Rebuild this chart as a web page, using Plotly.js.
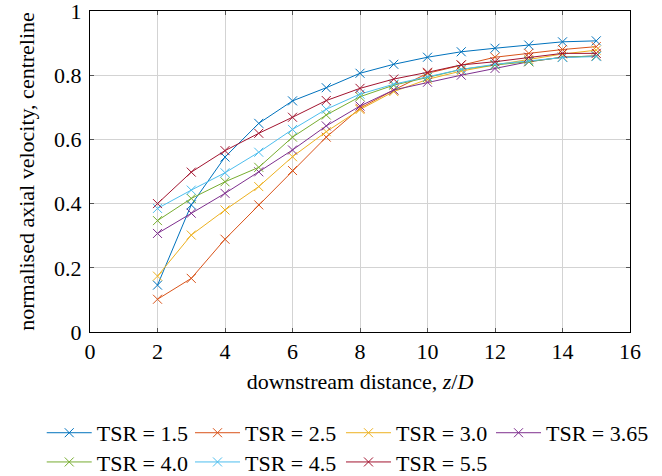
<!DOCTYPE html>
<html>
<head>
<meta charset="utf-8">
<script src="https://cdn.plot.ly/plotly-3.0.1.min.js"></script>
<style>html,body{margin:0;padding:0;background:#fff;}#chart{width:662px;height:476px;}</style>
</head>
<body>
<div id="chart"></div>
<script>
const distance = [2, 3, 4, 5, 6, 7, 8, 9, 10, 11, 12, 13, 14, 15];
const tsr15  = [0.146, 0.396, 0.545, 0.650, 0.720, 0.761, 0.806, 0.834, 0.856, 0.873, 0.884, 0.894, 0.904, 0.907];
const tsr25  = [0.102, 0.167, 0.289, 0.396, 0.503, 0.607, 0.697, 0.754, 0.806, 0.832, 0.856, 0.868, 0.880, 0.889];
const tsr30  = [0.174, 0.302, 0.380, 0.453, 0.546, 0.624, 0.693, 0.749, 0.787, 0.813, 0.832, 0.849, 0.866, 0.878];
const tsr365 = [0.307, 0.370, 0.432, 0.499, 0.567, 0.642, 0.704, 0.754, 0.778, 0.800, 0.821, 0.842, 0.856, 0.860];
const tsr40  = [0.347, 0.416, 0.468, 0.513, 0.607, 0.676, 0.733, 0.769, 0.793, 0.818, 0.832, 0.842, 0.856, 0.860];
const tsr45  = [0.385, 0.442, 0.496, 0.560, 0.631, 0.694, 0.741, 0.772, 0.795, 0.818, 0.834, 0.845, 0.855, 0.858];
const tsr55  = [0.400, 0.498, 0.565, 0.619, 0.669, 0.721, 0.759, 0.788, 0.809, 0.832, 0.842, 0.856, 0.868, 0.868];

const seriesNames = ["TSR = 1.5", "TSR = 2.5", "TSR = 3.0", "TSR = 3.65", "TSR = 4.0", "TSR = 4.5", "TSR = 5.5"];
const seriesValues = [tsr15, tsr25, tsr30, tsr365, tsr40, tsr45, tsr55];
const colors = ["#0072BD", "#D95319", "#EDB120", "#7E2F8E", "#77AC30", "#4DBEEE", "#A2142F"];

const xTicks = [0, 2, 4, 6, 8, 10, 12, 14, 16];
const yTicks = [0, 0.2, 0.4, 0.6, 0.8, 1];
const yTickText = ["0", "0.2", "0.4", "0.6", "0.8", "1"];

const serif = "'Liberation Serif', 'Times New Roman', serif";
const fs = 22;

// legend grid: 4 columns, 2 rows (paper coordinates)
const legendColX = [-0.0894, 0.1852, 0.4648, 0.7426];
const legendRowY = [-0.249, -0.340];

const legendIds = seriesNames.map((_, i) => i === 0 ? "legend" : "legend" + (i + 1));

const traces = seriesNames.map((name, i) => ({
  x: distance,
  y: seriesValues[i],
  name: name,
  type: "scatter",
  mode: "lines+markers",
  line: {color: colors[i], width: 1},
  marker: {symbol: "x-thin-open", size: 9, color: colors[i], line: {color: colors[i], width: 1}},
  legend: legendIds[i]
}));

const layout = {
  width: 662,
  height: 476,
  margin: {l: 90, r: 32, t: 11, b: 144, autoexpand: false},
  paper_bgcolor: "#fff",
  plot_bgcolor: "#fff",
  font: {family: serif, size: fs, color: "#000"},
  showlegend: true,
  xaxis: {
    range: [0, 16],
    tickvals: xTicks,
    ticks: "inside",
    ticklen: 4,
    tickcolor: "#555",
    ticklabeloverflow: "allow",
    showline: true,
    linecolor: "#000",
    linewidth: 1,
    mirror: "ticks",
    showgrid: true,
    gridcolor: "#d3d3d3",
    gridwidth: 1,
    zeroline: false,
    automargin: false,
    tickfont: {family: serif, size: fs},
    title: {text: "downstream distance, <i>z</i>/<i>D</i>", font: {family: serif, size: fs}, standoff: 10}
  },
  yaxis: {
    range: [0, 1],
    tickvals: yTicks,
    ticktext: yTickText,
    ticks: "inside",
    ticklen: 4,
    tickcolor: "#555",
    ticklabelstandoff: 3,
    ticklabeloverflow: "allow",
    showline: true,
    linecolor: "#000",
    linewidth: 1,
    mirror: "ticks",
    showgrid: true,
    gridcolor: "#d3d3d3",
    gridwidth: 1,
    zeroline: false,
    automargin: false,
    tickfont: {family: serif, size: fs},
    title: {text: "normalised axial velocity, centreline", font: {family: serif, size: fs}, standoff: 13}
  }
};

legendIds.forEach((id, i) => {
  layout[id] = {
    orientation: "h",
    xanchor: "left",
    yanchor: "top",
    xref: "paper",
    yref: "paper",
    x: legendColX[i % 4],
    y: legendRowY[Math.floor(i / 4)],
    font: {family: serif, size: fs, color: "#000"},
    bgcolor: "rgba(0,0,0,0)",
    borderwidth: 0,
    itemwidth: 45
  };
});

Plotly.newPlot("chart", traces, layout, {displayModeBar: false, staticPlot: true});
</script>
</body>
</html>
